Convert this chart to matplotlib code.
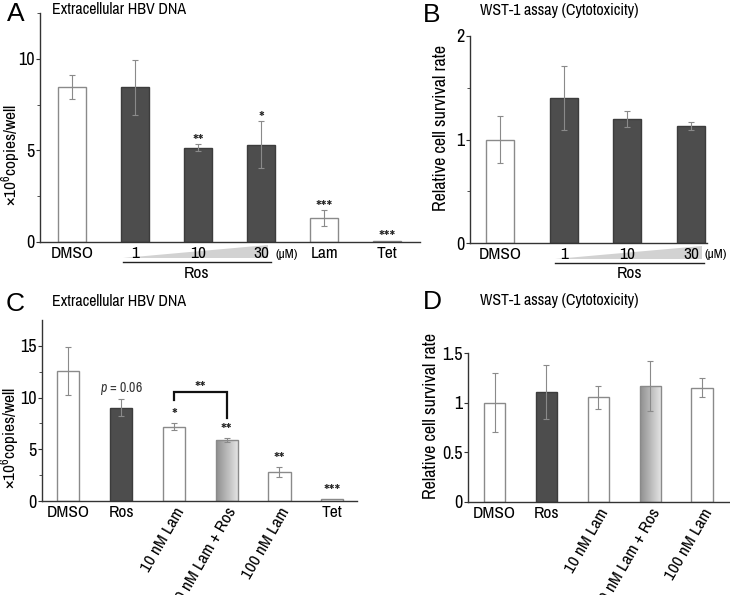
import numpy as np
import matplotlib
matplotlib.use('Agg')
import matplotlib.pyplot as plt
from matplotlib import transforms
from matplotlib.patches import Polygon
from matplotlib.colors import LinearSegmentedColormap

plt.rcParams['font.family'] = ['Archivo Narrow', 'DejaVu Sans']
plt.rcParams['mathtext.fontset'] = 'custom'
plt.rcParams['mathtext.rm'] = 'Archivo Narrow'
plt.rcParams['mathtext.it'] = 'Archivo Narrow:italic'
plt.rcParams['mathtext.default'] = 'regular'

# panel A: extracellular HBV DNA, Ros dose series
a_labels = ['DMSO', '1', '10', '30', 'Lam', 'Tet']
a_values = [8.45, 8.45, 5.15, 5.32, 1.3, 0.08]
a_errors = [0.67, 1.5, 0.2, 1.3, 0.45, 0.0]
a_stars = ['', '', '**', '*', '***', '***']
a_kind = ['white', 'dark', 'dark', 'dark', 'white', 'white']

# panel B: WST-1, Ros dose series
b_labels = ['DMSO', '1', '10', '30']
b_values = [1.0, 1.40, 1.20, 1.13]
b_errors = [0.23, 0.31, 0.08, 0.04]
b_kind = ['white', 'dark', 'dark', 'dark']

# panel C: extracellular HBV DNA, combinations
c_labels = ['DMSO', 'Ros', '10 nM Lam', '10 nM Lam + Ros', '100 nM Lam', 'Tet']
c_values = [12.6, 9.04, 7.2, 5.86, 2.77, 0.19]
c_errors = [2.33, 0.85, 0.38, 0.2, 0.48, 0.0]
c_stars = ['', '', '*', '**', '**', '***']
c_kind = ['white', 'dark', 'white', 'grad', 'white', 'white']

# panel D: WST-1, combinations
d_labels = ['DMSO', 'Ros', '10 nM Lam', '10 nM Lam + Ros', '100 nM Lam']
d_values = [1.0, 1.11, 1.055, 1.17, 1.15]
d_errors = [0.30, 0.27, 0.115, 0.25, 0.095]
d_kind = ['white', 'dark', 'white', 'grad', 'white']

W, H = 730, 595
grad_cmap = LinearSegmentedColormap.from_list('g', ['#8e8e8e', '#e8e8e8'])


def px_box(left, top, right, bottom):
    return [left / W, 1 - bottom / H, (right - left) / W, (bottom - top) / H]


def below(ax, px):
    # pixels below the x axis -> axes fraction
    h = ax.get_position().height * H
    return -px / h


def style_axes(ax):
    for s in ['top', 'right']:
        ax.spines[s].set_visible(False)
    for s in ['left', 'bottom']:
        ax.spines[s].set_color('#333333')
        ax.spines[s].set_linewidth(1.0)
    ax.tick_params(axis='x', length=0, labelsize=12.5, pad=3)
    ax.tick_params(axis='y', which='major', length=3, width=0.8, labelsize=13, pad=1, color='#333333')
    ax.tick_params(axis='y', which='minor', length=2, width=0.6, color='#333333')


def draw_bars(ax, values, errors, kind, width):
    x = np.arange(len(values))
    for xi, v, k in zip(x, values, kind):
        if k == 'dark':
            fc, ec = '#4d4d4d', '#3c3c3c'
        else:
            fc, ec = 'white', '#8a8a8a'
        bar = ax.bar(xi, v, width, color=fc, edgecolor=ec, linewidth=1.0, zorder=2)[0]
        if k == 'grad':
            bar.set_facecolor('none')
            grad = np.linspace(0, 1, 256).reshape(1, -1)
            im = ax.imshow(grad, cmap=grad_cmap, extent=[xi - width / 2, xi + width / 2, 0, v],
                           aspect='auto', zorder=1.9, interpolation='bilinear')
            im.set_clip_path(bar)
    err = np.array(errors)
    m = err > 0
    ax.errorbar(x[m], np.array(values)[m], yerr=err[m], fmt='none', ecolor='#8a8a8a',
                elinewidth=0.8, capsize=2.5, capthick=0.8, zorder=3)


def draw_stars(ax, values, errors, stars, offset):
    for xi, (v, e, s) in enumerate(zip(values, errors, stars)):
        if s:
            ax.annotate(s, (xi, v + e), xytext=(0, offset), textcoords='offset points',
                        ha='center', va='center', fontsize=13, color='#222222')


def dose_wedge(ax, x0, x1, xlabel_x):
    tr = transforms.blended_transform_factory(ax.transData, ax.transAxes)
    y_hi, y_lo, y_line, y_ros = below(ax, 3), below(ax, 16), below(ax, 20), below(ax, 31)
    ax.add_patch(Polygon([(x0, y_lo), (x1, y_lo), (x1, y_hi)], closed=True, transform=tr,
                         facecolor='#d2d2d2', edgecolor='none', clip_on=False, zorder=1))
    ax.plot([x0, x1 + 0.04], [y_line, y_line], transform=tr, color='#222222', lw=1.0,
            clip_on=False)
    ax.text((x0 + x1) / 2 + 0.02, y_ros, 'Ros', transform=tr, ha='center', va='center',
            fontsize=12.5)
    ax.text(xlabel_x, below(ax, 12), '(µM)', transform=tr, ha='center', va='center', fontsize=9.5)


fig = plt.figure(figsize=(W / 100, H / 100), dpi=100)

# ---- A ----
axA = fig.add_axes(px_box(40, 13, 420, 242))
draw_bars(axA, a_values, a_errors, a_kind, 0.44)
draw_stars(axA, a_values, a_errors, a_stars, 1.5)
axA.set_xlim(-0.51, 5.52)
axA.set_ylim(0, 12.5)
axA.set_yticks([0, 5, 10])
axA.set_yticks([2.5, 7.5, 12.5], minor=True)
axA.set_xticks(range(len(a_labels)))
axA.set_xticklabels(a_labels)
style_axes(axA)
axA.set_ylabel(r'×10$^6$copies/well', fontsize=12.5)
axA.yaxis.set_label_coords(-0.046, 0.38)
dose_wedge(axA, 0.81, 3.11, 3.40)

# ---- B ----
axB = fig.add_axes(px_box(470, 36, 707, 243))
draw_bars(axB, b_values, b_errors, b_kind, 0.44)
axB.set_xlim(-0.47, 3.25)
axB.set_ylim(0, 2)
axB.set_yticks([0, 1, 2])
axB.set_yticks([0.5, 1.5], minor=True)
axB.set_xticks(range(len(b_labels)))
axB.set_xticklabels(b_labels)
style_axes(axB)
axB.set_ylabel('Relative cell survival rate', fontsize=13)
axB.yaxis.set_label_coords(-0.089, 0.555)
dose_wedge(axB, 0.86, 3.17, 3.39)

# ---- C ----
axC = fig.add_axes(px_box(42, 320, 357, 501))
draw_bars(axC, c_values, c_errors, c_kind, 0.42)
draw_stars(axC, c_values, c_errors, c_stars, 5)
axC.set_xlim(-0.5, 5.47)
axC.set_ylim(0, 17.5)
axC.set_yticks([0, 5, 10, 15])
axC.set_yticks([2.5, 7.5, 12.5], minor=True)
axC.set_xticks(range(len(c_labels)))
axC.set_xticklabels(c_labels)
style_axes(axC)
axC.set_ylabel(r'×10$^6$copies/well', fontsize=12.5)
axC.yaxis.set_label_coords(-0.064, 0.35)
axC.annotate(r'$\it{p}$ = 0.06', (1, c_values[1] + c_errors[1]), xytext=(0, 5),
             textcoords='offset points', ha='center', va='baseline', fontsize=10, color='#333333')
top_l = c_values[2] + c_errors[2]
top_r = c_values[3] + c_errors[3]
br_top = max(top_l, top_r) + 3.0
axC.plot([2, 2, 3, 3], [br_top - 0.8, br_top, br_top, top_r + 2.0], color='#111111', lw=1.6,
         solid_joinstyle='miter', zorder=4)
axC.annotate('**', (2.5, br_top), xytext=(0, 2), textcoords='offset points', ha='center',
             va='center', fontsize=13, color='#222222')

# ---- D ----
axD = fig.add_axes(px_box(468, 353, 731, 502))
draw_bars(axD, d_values, d_errors, d_kind, 0.42)
axD.set_xlim(-0.51, 4.55)
axD.set_ylim(0, 1.5)
axD.set_yticks([0, 0.5, 1, 1.5])
axD.set_yticklabels(['0', '0.5', '1', '1.5'])
axD.set_xticks(range(len(d_labels)))
axD.set_xticklabels(d_labels)
style_axes(axD)
axD.set_ylabel('Relative cell survival rate', fontsize=13)
axD.yaxis.set_label_coords(-0.11, 0.58)

for ax in (axC, axD):
    for lab in ax.get_xticklabels():
        if 'nM' in lab.get_text():
            lab.set_rotation(60)
            lab.set_ha('right')
            lab.set_va('top')
            lab.set_rotation_mode('anchor')

# panel letters and titles
for letter, lx, ly, title, tx, ty in [
    ('A', 16, 14, 'Extracellular HBV DNA', 52, 10),
    ('B', 432, 15, 'WST-1 assay (Cytotoxicity)', 480, 10),
    ('C', 15, 304, 'Extracellular HBV DNA', 52, 301),
    ('D', 432, 302, 'WST-1 assay (Cytotoxicity)', 480, 300),
]:
    fig.text(lx / W, 1 - ly / H, letter, ha='center', va='center', fontsize=19,
             family=['Liberation Sans', 'DejaVu Sans'])
    fig.text(tx / W, 1 - ty / H, title, ha='left', va='center', fontsize=11.5)

fig.savefig('out.png', dpi=100)
